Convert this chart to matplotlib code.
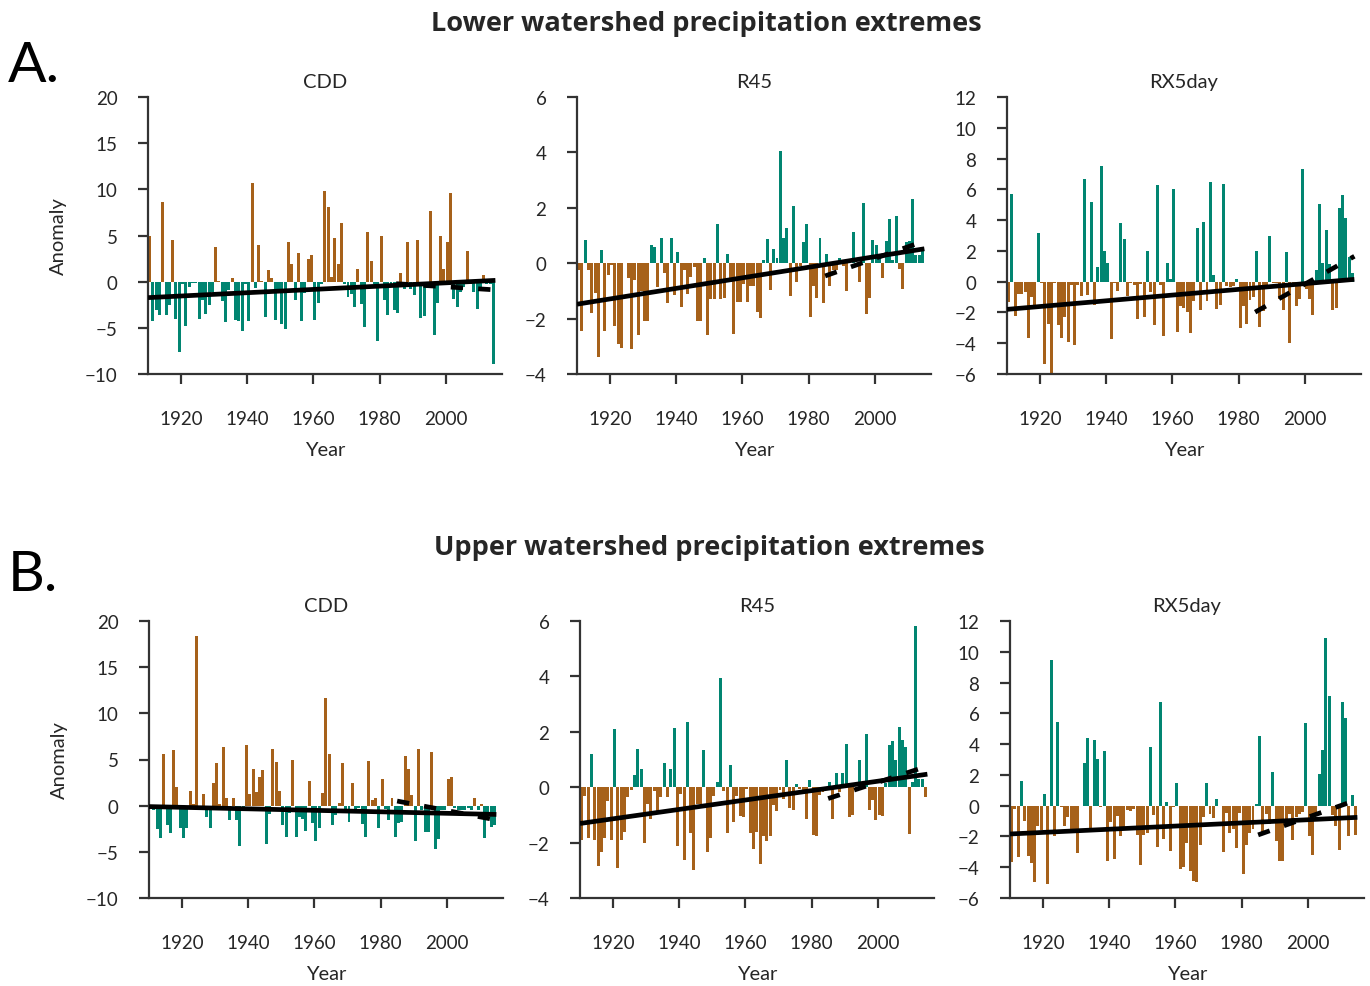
#!/usr/bin/env python3
"""Lower / upper watershed precipitation extreme anomalies (CDD, R45, RX5day)."""

import matplotlib

matplotlib.use("Agg")
import matplotlib.pyplot as plt
import numpy as np

YEARS = np.arange(1910, 2015)

LOWER_CDD = [
    5.0, -4.3, -3.1, -3.6, 8.6, -3.6, -2.5, 4.5, -4.0, -7.6,
    -0.2, -4.8, -0.6, -0.1, -0.1, -4.0, -2.0, -3.5, -2.5, -1.1,
    3.8, 0.1, -2.1, -4.4, -0.9, 0.4, -4.1, -4.3, -5.3, -0.3,
    -4.3, 10.7, -0.7, 4.0, 0.1, -3.8, 1.3, 0.4, -4.1, -1.1,
    -4.6, -5.1, 4.3, 1.9, -2.0, 3.1, -4.3, -1.2, 2.5, 2.9,
    -4.1, -2.3, -0.2, 9.8, 8.1, 0.5, 4.7, 1.9, 6.4, -0.3,
    -1.7, -1.3, -2.7, 1.4, -2.4, -4.9, 5.4, 2.2, -0.2, -6.4,
    5.0, -2.0, -3.6, -0.2, -3.1, -3.4, 0.9, -0.8, 4.3, -0.8,
    -1.4, 4.5, -3.9, -3.7, -0.7, 7.7, -5.8, -2.3, 5.0, 1.4,
    4.3, 9.6, -1.9, -2.7, -1.1, -0.6, 3.3, -0.2, -1.1, -3.0,
    -0.9, 0.7, -0.2, -0.3, -8.9,
]
LOWER_R45 = [
    -0.25, -2.45, 0.83, -0.24, -1.8, -1.07, -3.4, 0.47, -2.45, -0.42,
    -0.05, -2.26, -2.9, -3.06, 0.0, -0.54, -3.1, -0.6, -2.6, -1.0,
    -2.1, -2.1, 0.66, 0.58, -0.87, 0.9, -0.35, -1.43, 0.9, -1.14,
    0.4, -1.58, -0.24, -1.1, -0.49, -0.14, -2.1, -2.1, 0.18, -2.6,
    -1.3, -1.3, 1.41, -1.29, -1.25, 0.33, -0.69, -2.55, -1.39, -1.39,
    -0.75, -1.4, -0.82, -0.82, -1.75, -1.98, 0.1, 0.87, -0.96, 0.5,
    0.18, 4.05, 0.9, 1.27, -1.18, 2.06, -0.67, -0.1, 0.76, 1.41,
    -1.94, -0.82, -1.25, 0.9, -1.43, 0.33, -0.82, -0.24, -0.24, 0.18,
    -0.1, -1.0, 0.1, 1.12, -0.1, -0.67, 2.17, -1.83, -1.25, 0.83,
    0.65, 0.18, -0.53, 0.8, 1.59, 0.12, 1.7, -0.2, -0.93, 0.76,
    0.8, 2.31, 0.3, 0.3, 0.43,
]
LOWER_RX5DAY = [
    -1.32, 5.68, -2.23, -0.8, -0.77, -0.65, -3.66, -1.0, -1.5, 3.19,
    -0.1, -5.38, -2.76, -6.0, -0.1, -2.8, -3.66, -2.3, -3.9, -0.23,
    -4.1, -0.2, -0.9, 6.7, -0.87, 5.2, -1.5, 0.93, 7.5, 2.0,
    1.2, -3.7, -0.1, -0.6, 3.8, 2.75, -0.9, -0.1, -0.2, -2.4,
    -0.15, -2.3, 2.0, -0.65, -2.8, 6.3, -0.2, -3.5, 1.2, 0.2,
    6.0, -3.3, -1.6, -1.7, -2.0, -3.34, -1.26, 3.47, -1.84, 3.86,
    -1.26, 6.46, 0.41, -1.78, -1.52, 6.33, -0.28, -0.35, -0.3, 0.2,
    -3.0, -1.58, -2.75, -1.2, -1.0, 2.0, -2.95, -1.9, -0.2, 2.95,
    -0.1, -0.1, -1.13, -1.84, 1.9, -3.97, -0.1, -1.58, -1.13, 7.3,
    -0.5, -1.13, -2.17, 0.74, 5.03, 1.21, 3.34, 1.13, -1.84, -1.7,
    4.77, 5.62, 4.12, 1.63, 0.54,
]
UPPER_CDD = [
    -0.3, -0.5, -2.48, -3.45, 5.58, -2.05, -3.0, 6.0, 2.0, -2.37,
    -3.45, -2.37, 1.58, 0.2, 18.4, -0.2, 1.26, -1.19, -2.37, 2.45,
    4.6, 0.2, 6.33, 0.83, -1.51, 0.83, -1.51, -4.42, -0.3, 6.55,
    1.26, 3.96, 1.47, 3.09, 3.85, -4.2, -0.86, 6.1, 4.7, 1.58,
    -2.05, -3.35, -0.75, 4.93, -3.35, -1.19, -1.4, -2.7, 2.66, -1.83,
    -3.88, -2.37, 1.37, 11.7, 5.58, -2.05, -0.97, 0.29, 4.6, -0.36,
    -1.73, 2.45, -0.36, -0.2, -1.94, -3.35, 4.82, 0.6, 0.83, -2.37,
    2.88, -0.36, -1.51, 0.83, -3.35, -1.83, -1.73, 5.36, 3.96, 1.15,
    -3.88, 6.1, -0.47, -2.8, -2.8, 5.8, -4.64, -3.56, -0.5, -0.47,
    2.88, 3.09, -0.3, -0.5, -0.5, -0.5, -0.3, -0.5, 0.83, -0.5,
    0.18, -3.45, -0.9, -2.27, -2.05,
]
UPPER_R45 = [
    -1.9, -0.3, -1.83, 1.19, -1.9, -2.83, -2.33, -1.83, -0.5, -1.9,
    2.09, -2.9, -1.9, -1.6, -0.35, -0.1, 0.43, 1.37, 0.65, -2.0,
    -0.6, -1.14, -0.13, -0.85, -0.35, 0.86, -0.35, 0.65, 2.12, -2.11,
    -0.24, -2.62, 2.34, -1.64, -3.0, -0.6, -0.6, 1.33, -2.33, -1.83,
    -0.3, 0.18, 3.96, -0.13, -1.64, 0.79, -1.25, -0.3, -1.03, -1.07,
    -0.06, -1.64, -2.22, -1.6, -2.76, -1.75, -1.93, -1.75, -0.64, -0.85,
    -0.1, -0.42, 1.0, -0.74, -0.82, 0.1, -0.05, -0.1, -1.14, 0.25,
    -1.72, -1.75, -0.28, -0.17, -0.1, 0.18, -1.14, 0.5, -0.17, 0.5,
    1.55, -1.07, -1.0, -0.1, 0.97, 0.1, 1.91, -0.82, -0.46, -1.18,
    -1.0, -1.03, 0.14, 1.51, 1.66, 0.97, 2.16, 1.69, 1.44, -1.68,
    0.18, 5.83, 0.29, 0.29, -0.35,
]
UPPER_RX5DAY = [
    -3.64, -0.2, -3.31, 1.6, -0.97, -3.25, -3.7, -4.94, -1.3, -1.58,
    0.76, -5.06, 9.46, -2.0, 5.43, -0.1, -1.3, -0.71, -1.5, -1.5,
    -3.05, -0.05, 2.77, 4.39, -1.43, 4.26, 3.03, -0.06, 3.55, -3.57,
    -1.04, -3.44, -0.65, -1.95, -1.36, -0.26, -0.32, -0.2, -1.88, -3.83,
    -1.88, -1.75, 3.81, -0.58, -2.66, 6.73, -2.14, 0.24, -2.92, -0.1,
    1.47, -4.1, -3.96, -2.4, -4.22, -4.87, -4.94, -2.53, -0.71, 1.47,
    -0.52, -0.78, 0.43, -0.05, -2.99, -0.45, -1.75, -1.5, -2.73, -0.45,
    -4.42, -2.53, -1.75, -1.5, 0.13, 4.52, -1.69, -0.52, -1.17, 2.19,
    -2.27, -3.57, -3.57, -1.17, -0.52, -2.21, -0.71, -0.52, -0.39, 5.37,
    -2.0, -3.18, -0.5, 2.06, 3.61, 10.9, 7.12, -0.58, -1.3, -2.86,
    6.73, 5.69, -1.95, 0.69, -1.88,
]

# trend line end values
TREND_YEARS = (1910, 2015)
RECENT_YEARS = (1985, 2015)
LOWER_TREND = {"CDD": (-1.73, 0.14), "R45": (-1.48, 0.52), "RX5day": (-1.8, 0.15)}
LOWER_RECENT = {"CDD": (-0.22, -0.89), "R45": (-0.46, 0.8), "RX5day": (-1.98, 1.65)}
UPPER_TREND = {"CDD": (-0.1, -0.95), "R45": (-1.31, 0.47), "RX5day": (-1.84, -0.76)}
UPPER_RECENT = {"CDD": (0.5, -1.55), "R45": (-0.41, 0.76), "RX5day": (-1.9, 0.39)}

INDICES = ("CDD", "R45", "RX5day")
YLIMS = {"CDD": (-10, 20, 5), "R45": (-4, 6, 2), "RX5day": (-6, 12, 2)}

TEAL = "#018571"
BROWN = "#A6611A"
INK = "#262626"
FONT = "Lato"
TITLE_FONT = "Open Sans"

FIG_W_PX, FIG_H_PX = 1370, 987
AX_W_PX, AX_H_PX = 354, 277
ROWS = {
    "lower": {"top": 98, "lefts": (148, 577, 1007)},
    "upper": {"top": 622, "lefts": (149, 580, 1010)},
}


def _axes_rect(left_px, top_px):
    return [
        left_px / FIG_W_PX,
        1 - (top_px + AX_H_PX) / FIG_H_PX,
        AX_W_PX / FIG_W_PX,
        AX_H_PX / FIG_H_PX,
    ]


def draw_panel(ax, name, values, trend, recent, ylabel):
    values = np.asarray(values)
    dry_positive = name == "CDD"
    pos_color, neg_color = (BROWN, TEAL) if dry_positive else (TEAL, BROWN)
    colors = [pos_color if v >= 0 else neg_color for v in values]
    ax.bar(YEARS, values, width=0.9, align="edge", color=colors, linewidth=0)

    ax.plot(TREND_YEARS, trend, color="black", linewidth=3.4,
            solid_capstyle="butt", zorder=3)
    ax.plot(RECENT_YEARS, recent, color="black", linewidth=3.4,
            linestyle=(0, (2.6, 3.2)), dash_capstyle="butt", zorder=4)

    lo, hi, step = YLIMS[name]
    ax.set_ylim(lo, hi)
    ax.set_yticks(np.arange(lo, hi + step / 2, step))
    ax.set_xlim(1910, 2017)
    ax.set_xticks(np.arange(1920, 2001, 20))

    for side in ("top", "right"):
        ax.spines[side].set_visible(False)
    for side in ("left", "bottom"):
        ax.spines[side].set_linewidth(1.6)
        ax.spines[side].set_color("#333333")
    ax.tick_params(direction="out", length=7, width=1.6, color="#333333",
                   labelsize=13.5, labelcolor=INK)
    ax.tick_params(axis="x", pad=19)
    ax.tick_params(axis="y", pad=15)
    for lab in ax.get_xticklabels() + ax.get_yticklabels():
        lab.set_fontfamily(FONT)

    ax.set_title(name, fontsize=14.5, color=INK, pad=7, fontfamily=FONT)
    ax.set_xlabel("Year", fontsize=14.5, color=INK, labelpad=10, fontfamily=FONT)
    if ylabel:
        ax.set_ylabel("Anomaly", fontsize=14.5, color=INK, labelpad=13,
                      fontfamily=FONT)


def main():
    plt.rcParams["font.family"] = [FONT, "DejaVu Sans"]
    fig = plt.figure(figsize=(FIG_W_PX / 100, FIG_H_PX / 100), dpi=100)

    rows = (
        ("lower", (LOWER_CDD, LOWER_R45, LOWER_RX5DAY), LOWER_TREND, LOWER_RECENT),
        ("upper", (UPPER_CDD, UPPER_R45, UPPER_RX5DAY), UPPER_TREND, UPPER_RECENT),
    )
    for row, series, trends, recents in rows:
        spec = ROWS[row]
        for i, name in enumerate(INDICES):
            ax = fig.add_axes(_axes_rect(spec["lefts"][i], spec["top"]))
            draw_panel(ax, name, series[i], trends[name], recents[name], i == 0)

    fig.text(706 / FIG_W_PX, 1 - 24 / FIG_H_PX,
             "Lower watershed precipitation extremes", ha="center", va="center",
             fontsize=19.5, fontweight="bold", color=INK, fontfamily=TITLE_FONT)
    fig.text(709 / FIG_W_PX, 1 - 548 / FIG_H_PX,
             "Upper watershed precipitation extremes", ha="center", va="center",
             fontsize=19.5, fontweight="bold", color=INK, fontfamily=TITLE_FONT)
    fig.text(8 / FIG_W_PX, 1 - 66 / FIG_H_PX, "A.", ha="left", va="center",
             fontsize=41, color="black")
    fig.text(8 / FIG_W_PX, 1 - 576 / FIG_H_PX, "B.", ha="left", va="center",
             fontsize=41, color="black")

    fig.savefig("out.png", dpi=100)
    plt.close(fig)


if __name__ == "__main__":
    main()
